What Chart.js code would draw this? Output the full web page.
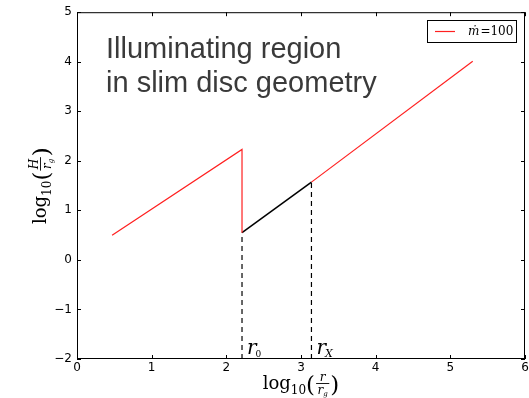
<!DOCTYPE html>
<html>
<head>
<meta charset="utf-8">
<script src="https://cdn.jsdelivr.net/npm/chart.js"></script>
<style>
  html, body { margin: 0; padding: 0; background: #fff; }
  #wrap { width: 529px; height: 398px; }
</style>
</head>
<body>
<div id="wrap"><canvas id="c"></canvas></div>
<script>
// log10(r/rg) and log10(H/rg)
const rInner = [0.47, 2.21, 2.21];
const hInner = [0.50, 2.23, 0.55];
const rIllum = [2.21, 3.14];
const hIllum = [0.55, 1.57];
const rOuter = [3.14, 5.30];
const hOuter = [1.57, 4.01];
const rMarks = [2.21, 3.14];
const markSubs = ['0', 'X'];
const xTicks = [0, 1, 2, 3, 4, 5, 6];
const yTicks = [-2, -1, 0, 1, 2, 3, 4, 5];
const legendText = 'ṁ';
const legendValue = '=100';

function pts(xs, ys) {
  return xs.map((x, i) => ({ x: x, y: ys[i] }));
}

const datasets = [
  { data: pts(rInner, hInner), borderColor: '#ff2020', borderWidth: 1.2 },
  { data: pts(rIllum, hIllum), borderColor: '#000', borderWidth: 1.5 },
  { data: pts(rOuter, hOuter), borderColor: '#ff2020', borderWidth: 1.2 }
];
rMarks.forEach((r, i) => {
  datasets.push({
    data: pts([r, r], [yTicks[0], i === 0 ? hIllum[0] : hIllum[1]]),
    borderColor: '#000', borderWidth: 1.2, borderDash: [5, 4]
  });
});
datasets.forEach(d => { d.showLine = true; d.pointRadius = 0; d.fill = false; });

const SERIF = '"DejaVu Serif", "Liberation Serif", serif';

// draws log_10( num / den_sub ) starting at x, baseline y; returns end x
function drawLogFrac(ctx, x, y, num, den, denSub, dry) {
  const x0 = x;
  ctx.fillStyle = '#000';
  ctx.textBaseline = 'alphabetic';
  ctx.textAlign = 'left';
  const put = (t, px, py) => { if (!dry) ctx.fillText(t, px, py); };
  ctx.font = '18px ' + SERIF;
  put('log', x, y);
  x += ctx.measureText('log').width;
  ctx.font = '12px ' + SERIF;
  put('10', x, y + 5);
  x += ctx.measureText('10').width;
  ctx.font = '23px ' + SERIF;
  put('(', x, y + 3);
  x += ctx.measureText('(').width + 1;
  ctx.font = 'italic 12px ' + SERIF;
  const nw = ctx.measureText(num).width;
  const dw = ctx.measureText(den).width;
  ctx.font = 'italic 7px ' + SERIF;
  const sw = ctx.measureText(denSub).width;
  const fw = Math.max(nw, dw + sw) + 3;
  ctx.font = 'italic 12px ' + SERIF;
  put(num, x + (fw - nw) / 2, y - 8);
  if (!dry) ctx.fillRect(x, y - 6, fw, 0.9);
  const dx = x + (fw - dw - sw) / 2;
  put(den, dx, y + 5);
  ctx.font = 'italic 7px ' + SERIF;
  put(denSub, dx + dw, y + 7);
  x += fw + 1;
  ctx.font = '23px ' + SERIF;
  put(')', x, y + 3);
  x += ctx.measureText(')').width;
  return x - x0;
}

const decorations = {
  id: 'decorations',
  afterDraw(chart) {
    const ctx = chart.ctx;
    const a = chart.chartArea;
    const xs = chart.scales.x, ys = chart.scales.y;
    ctx.save();
    // frame
    ctx.strokeStyle = '#000';
    ctx.lineWidth = 1;
    ctx.strokeRect(a.left + 0.5, a.top + 0.5, a.right - a.left - 1, a.bottom - a.top - 1);
    // inward ticks on all four sides
    ctx.beginPath();
    xTicks.forEach(t => {
      const px = Math.round(xs.getPixelForValue(t)) + 0.5;
      ctx.moveTo(px, a.bottom); ctx.lineTo(px, a.bottom - 4);
      ctx.moveTo(px, a.top); ctx.lineTo(px, a.top + 4);
    });
    yTicks.forEach(t => {
      const py = Math.round(ys.getPixelForValue(t)) + 0.5;
      ctx.moveTo(a.left, py); ctx.lineTo(a.left + 4, py);
      ctx.moveTo(a.right, py); ctx.lineTo(a.right - 4, py);
    });
    ctx.stroke();

    // caption
    ctx.fillStyle = '#3a3a3a';
    ctx.font = '29px "Liberation Sans", Arial, sans-serif';
    ctx.textAlign = 'left';
    ctx.textBaseline = 'alphabetic';
    ctx.fillText('Illuminating region', 106, 58);
    ctx.fillText('in slim disc geometry', 106, 92);

    // legend
    const lx = 427, ly = 20, lw = 89, lh = 22;
    ctx.fillStyle = '#fff';
    ctx.fillRect(lx, ly, lw, lh);
    ctx.strokeStyle = '#000';
    ctx.lineWidth = 1;
    ctx.strokeRect(lx + 0.5, ly + 0.5, lw, lh);
    ctx.strokeStyle = '#ff2020';
    ctx.lineWidth = 1.2;
    ctx.beginPath();
    ctx.moveTo(435, ly + 11.5); ctx.lineTo(455, ly + 11.5);
    ctx.stroke();
    ctx.fillStyle = '#000';
    ctx.font = 'italic 12px ' + SERIF;
    ctx.fillText(legendText, 468, ly + 15);
    let tx = 468 + ctx.measureText(legendText).width + 1;
    ctx.font = '12px ' + SERIF;
    ctx.fillText(legendValue, tx, ly + 15);

    // r0 and rX marks
    rMarks.forEach((r, i) => {
      const px = xs.getPixelForValue(r) + 5;
      ctx.font = 'italic 20px ' + SERIF;
      ctx.fillText('r', px, 354);
      const w = ctx.measureText('r').width;
      ctx.font = (i === 0 ? '' : 'italic ') + (i === 0 ? '9px ' : '11px ') + SERIF;
      ctx.fillText(markSubs[i], px + w - 1, 357);
    });

    // axis titles
    const xc = (a.left + a.right) / 2;
    const wx = drawLogFrac(ctx, 0, 0, 'r', 'r', 'g', true);
    drawLogFrac(ctx, xc - wx / 2, 389, 'r', 'r', 'g');
    const wy = drawLogFrac(ctx, 0, 0, 'H', 'r', 'g', true);
    ctx.translate(46, (a.top + a.bottom) / 2);
    ctx.rotate(-Math.PI / 2);
    drawLogFrac(ctx, -wy / 2, 0, 'H', 'r', 'g');
    ctx.restore();
  }
};

function minusFmt(v) {
  return v < 0 ? '\u2212' + Math.abs(v) : String(v);
}

new Chart(document.getElementById('c'), {
  type: 'scatter',
  data: { datasets: datasets },
  options: {
    responsive: true,
    maintainAspectRatio: false,
    animation: false,
    layout: { padding: { top: 12, right: 4, left: 0, bottom: 0 } },
    plugins: { legend: { display: false }, tooltip: { enabled: false } },
    scales: {
      x: {
        type: 'linear',
        min: xTicks[0], max: xTicks[xTicks.length - 1],
        grid: { display: false, drawTicks: false },
        border: { display: false },
        afterFit: s => { s.height = 39; s.paddingLeft = 0; s.paddingRight = 0; },
        afterBuildTicks: s => { s.ticks = xTicks.map(v => ({ value: v })); },
        ticks: { padding: 2, color: '#000', font: { family: '"DejaVu Sans", sans-serif', size: 12 }, callback: minusFmt, maxRotation: 0 }
      },
      y: {
        type: 'linear',
        min: yTicks[0], max: yTicks[yTicks.length - 1],
        grid: { display: false, drawTicks: false },
        border: { display: false },
        afterFit: s => { s.width = 77; },
        afterBuildTicks: s => { s.ticks = yTicks.map(v => ({ value: v })); },
        ticks: { padding: 5, color: '#000', font: { family: '"DejaVu Sans", sans-serif', size: 12 }, callback: minusFmt }
      }
    }
  },
  plugins: [decorations]
});
</script>
</body>
</html>
